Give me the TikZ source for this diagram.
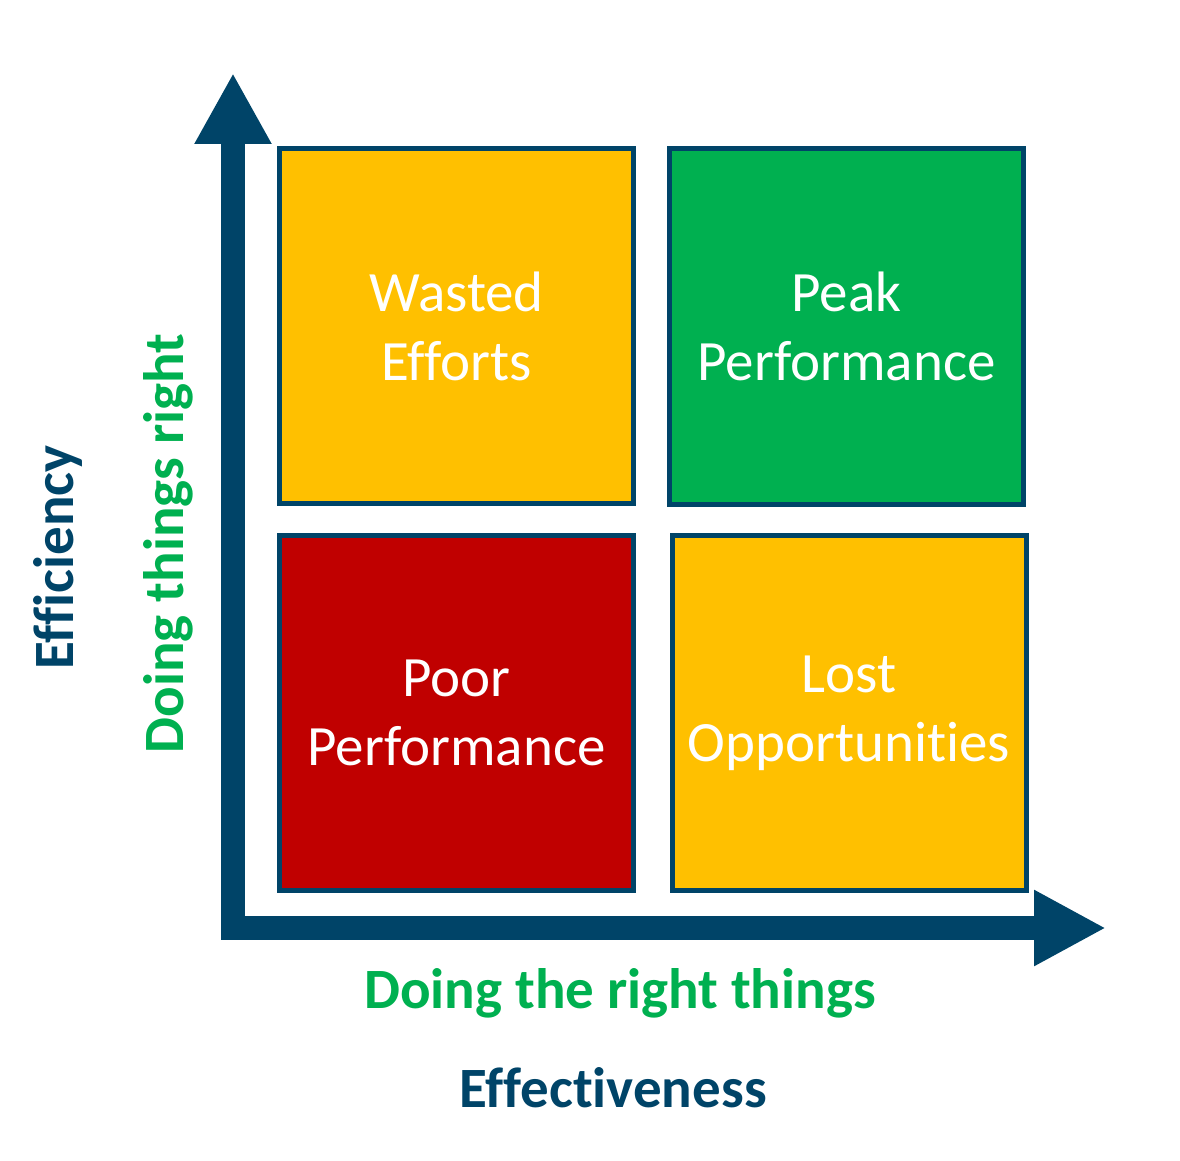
\documentclass[tikz,border=0pt]{standalone}
\usepackage{fontspec}
\setmainfont[Ligatures={NoCommon,NoRequired,NoContextual}]{Carlito}
\usetikzlibrary{arrows.meta,positioning}
\definecolor{axisblue}{RGB}{0,68,104}
\definecolor{quadyellow}{RGB}{255,192,0}
\definecolor{quadgreen}{RGB}{0,176,80}
\definecolor{quadred}{RGB}{192,0,0}
\definecolor{labelgreen}{RGB}{0,176,80}

\begin{document}
\begin{tikzpicture}[x=1pt, y=-1pt,
    quad/.style={draw=axisblue, line width=5pt, rectangle, minimum width=354pt, minimum height=355pt, text=white, align=center, inner sep=0pt, font=\fontsize{57}{69}\selectfont},
    axislabel/.style={inner sep=0pt, anchor=base, font=\fontsize{57}{69}\selectfont\bfseries}]
    \useasboundingbox (0,0) rectangle (1180,1161);

    % Quadrants
    \node[quad, fill=quadyellow] (wasted) at (456.5, 326) {Wasted\\Efforts};
    \node[quad, fill=quadgreen] (peak) at (846.5, 326.5) {Peak\\Performance};
    \node[quad, fill=quadred] (poor) at (456.5, 713) {Poor\\Performance};
    \node[quad, fill=quadyellow] (lost) at (849, 713) {Lost\\Opportunities};

    % Axes
    \coordinate (origin) at (233, 928);
    \coordinate (ytip) at (233, 73);
    \coordinate (xtip) at (1106, 928);
    \draw[axisblue, line width=24pt, line join=miter, {Triangle[length=71pt, width=72pt]}-{Triangle[length=72pt, width=71pt]}] (ytip) -- (origin) -- (xtip);

    % Axis labels
    \node[axislabel, text=labelgreen] (rightthings) at (620, 1008) {Doing the right things};
    \node[axislabel, text=axisblue] (effectiveness) at (613, 1107) {Effectiveness};
    \node[axislabel, text=labelgreen, rotate=90] (thingsright) at (183, 543.5) {Doing things right};
    \node[axislabel, text=axisblue, rotate=90] (efficiency) at (73.5, 557.5) {Efficiency};

\end{tikzpicture}
\end{document}
